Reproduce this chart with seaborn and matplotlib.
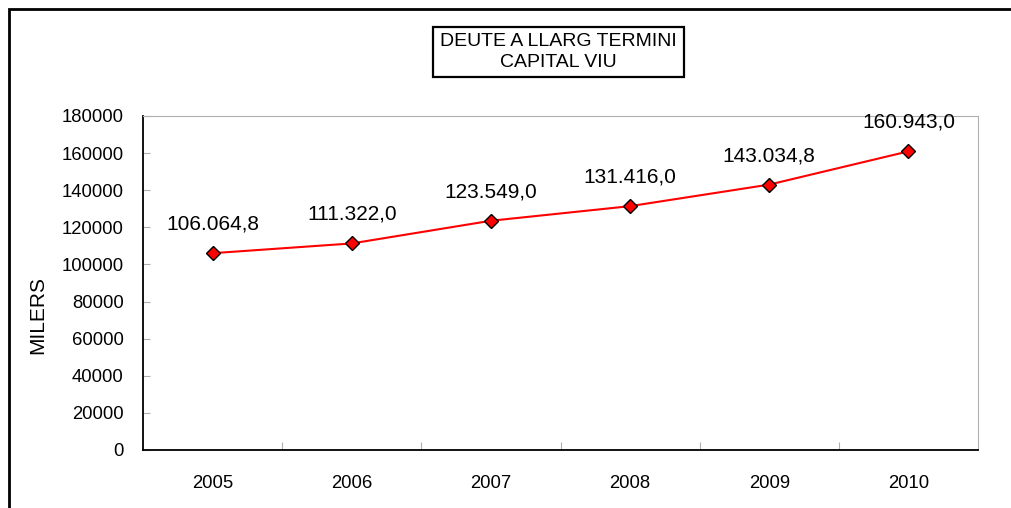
import pandas as pd
import matplotlib.pyplot as plt
import seaborn as sns
from matplotlib.patches import Rectangle

# Data
years = ['2005', '2006', '2007', '2008', '2009', '2010']
capital_viu = [106064.8, 111322.0, 123549.0, 131416.0, 143034.8, 160943.0]
yticks = [0, 20000, 40000, 60000, 80000, 100000, 120000, 140000, 160000, 180000]

sns.set_style('white')
plt.rcParams['font.family'] = ['Liberation Sans', 'DejaVu Sans']
plt.rcParams['text.color'] = 'black'
plt.rcParams['axes.labelcolor'] = 'black'
plt.rcParams['xtick.labelcolor'] = 'black'
plt.rcParams['ytick.labelcolor'] = 'black'


def fmt_ca(v):
    # 106064.8 -> 106.064,8
    s = f"{v:,.1f}"
    return s.replace(',', 'X').replace('.', ',').replace('X', '.')


df = pd.DataFrame({'pos': range(len(years)), 'valor': capital_viu})

fig = plt.figure(figsize=(10.11, 5.08), dpi=100)
ax = fig.add_axes([143 / 1011, 58 / 508, 835 / 1011, 334 / 508])

sns.lineplot(data=df, x='pos', y='valor', ax=ax, color='red', linewidth=1.5,
             marker='D', markersize=7, markerfacecolor='red',
             markeredgecolor='black', markeredgewidth=1.0)

for x, v in zip(df['pos'], df['valor']):
    ax.annotate(fmt_ca(v), (x, v), xytext=(0, 14), textcoords='offset points',
                ha='center', va='bottom', fontsize=15)

ax.set_xlim(-0.5, len(years) - 0.5)
ax.set_ylim(0, 180000)
ax.set_xticks(range(len(years)))
ax.set_xticklabels(years, fontsize=13.3)
ax.set_xticks([i + 0.5 for i in range(len(years) - 1)], minor=True)
ax.set_yticks(yticks)
ax.set_yticklabels([str(t) for t in yticks], fontsize=13.3)
ax.tick_params(axis='x', which='major', length=0, pad=18)
ax.tick_params(axis='x', which='minor', direction='in', length=6,
               color='#b0b0b0', width=0.8, bottom=True)
ax.tick_params(axis='y', direction='in', length=5, color='#b0b0b0',
               width=0.8, left=True, pad=14)

ax.set_xlabel('')
ax.set_ylabel('MILERS', fontsize=15)
ax.yaxis.set_label_coords((47 - 143) / 835, (450 - 315) / 334)

for side in ['left', 'bottom']:
    ax.spines[side].set_color('black')
    ax.spines[side].set_linewidth(1.3)
for side in ['top', 'right']:
    ax.spines[side].set_color('#b0b0b0')
    ax.spines[side].set_linewidth(0.8)

# Title box
fig.patches.append(Rectangle((433 / 1011, 1 - 77 / 508), 251 / 1011, 50 / 508,
                             transform=fig.transFigure, facecolor='white',
                             edgecolor='black', linewidth=1.6))
fig.text(558 / 1011, 1 - 52 / 508, 'DEUTE A LLARG TERMINI\nCAPITAL VIU',
         ha='center', va='center', fontsize=14, linespacing=1.25)

# Outer chart-area frame
fig.patches.append(Rectangle((9 / 1011, -0.05), 1.1, 1 - 9 / 508 + 0.05,
                             transform=fig.transFigure, fill=False,
                             edgecolor='black', linewidth=2.0))

fig.savefig('out.png', dpi=100)
plt.close(fig)
